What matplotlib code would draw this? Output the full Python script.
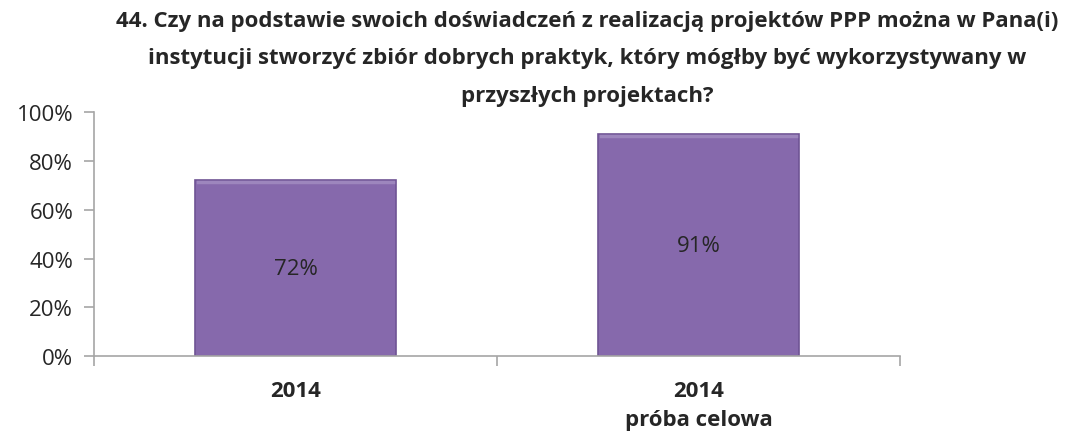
import numpy as np
import matplotlib.pyplot as plt
from matplotlib.ticker import FuncFormatter

categories = ['2014', '2014\npróba celowa']
values = [72, 91]
value_labels = ['72%', '91%']

title = ('44. Czy na podstawie swoich doświadczeń z realizacją projektów PPP można w Pana(i)\n'
         'instytucji stworzyć zbiór dobrych praktyk, który mógłby być wykorzystywany w\n'
         'przyszłych projektach?')

plt.rcParams['font.family'] = ['Open Sans', 'DejaVu Sans']

fig = plt.figure(figsize=(10.68, 4.35), dpi=100)
ax = fig.add_axes([0.088, 0.179, 0.7547, 0.561])

x = np.arange(len(categories))
bars = ax.bar(x, values, width=0.5, color='#8669ac', edgecolor='#6f5494', linewidth=1.2)
for b, lab in zip(bars, value_labels):
    ax.text(b.get_x() + b.get_width() / 2, b.get_height() / 2, lab,
            ha='center', va='center', fontsize=16, color='#262626')
    # light bevel on top edge
    ax.plot([b.get_x() + 0.008, b.get_x() + b.get_width() - 0.008],
            [b.get_height() - 0.6, b.get_height() - 0.6], color='#9d86bd', lw=2.5)

ax.set_xlim(-0.5, 1.5)
ax.set_ylim(0, 100)
ax.set_yticks(np.arange(0, 101, 20))
ax.yaxis.set_major_formatter(FuncFormatter(lambda v, p: '%d%%' % v))
ax.set_xticks([-0.5, 0.5, 1.5])
ax.set_xticklabels([])
ax.set_xticks(x, minor=True)
ax.set_xticklabels(categories, minor=True, fontsize=16, fontweight='bold', color='#262626',
                   linespacing=1.5)
ax.tick_params(axis='x', which='minor', length=0, pad=17)
ax.tick_params(axis='x', which='major', length=7, color='#a6a6a6', width=1.2)
ax.tick_params(axis='y', length=7, color='#a6a6a6', width=1.2, labelsize=16,
               labelcolor='#262626', pad=8)
for s in ['top', 'right']:
    ax.spines[s].set_visible(False)
for s in ['left', 'bottom']:
    ax.spines[s].set_color('#a6a6a6')
    ax.spines[s].set_linewidth(1.2)

fig.text(0.55, 1 - 11 / 435, title, ha='center', va='top', fontsize=16, fontweight='bold',
         color='#262626', linespacing=2.02)

fig.savefig('out.png', dpi=100)
